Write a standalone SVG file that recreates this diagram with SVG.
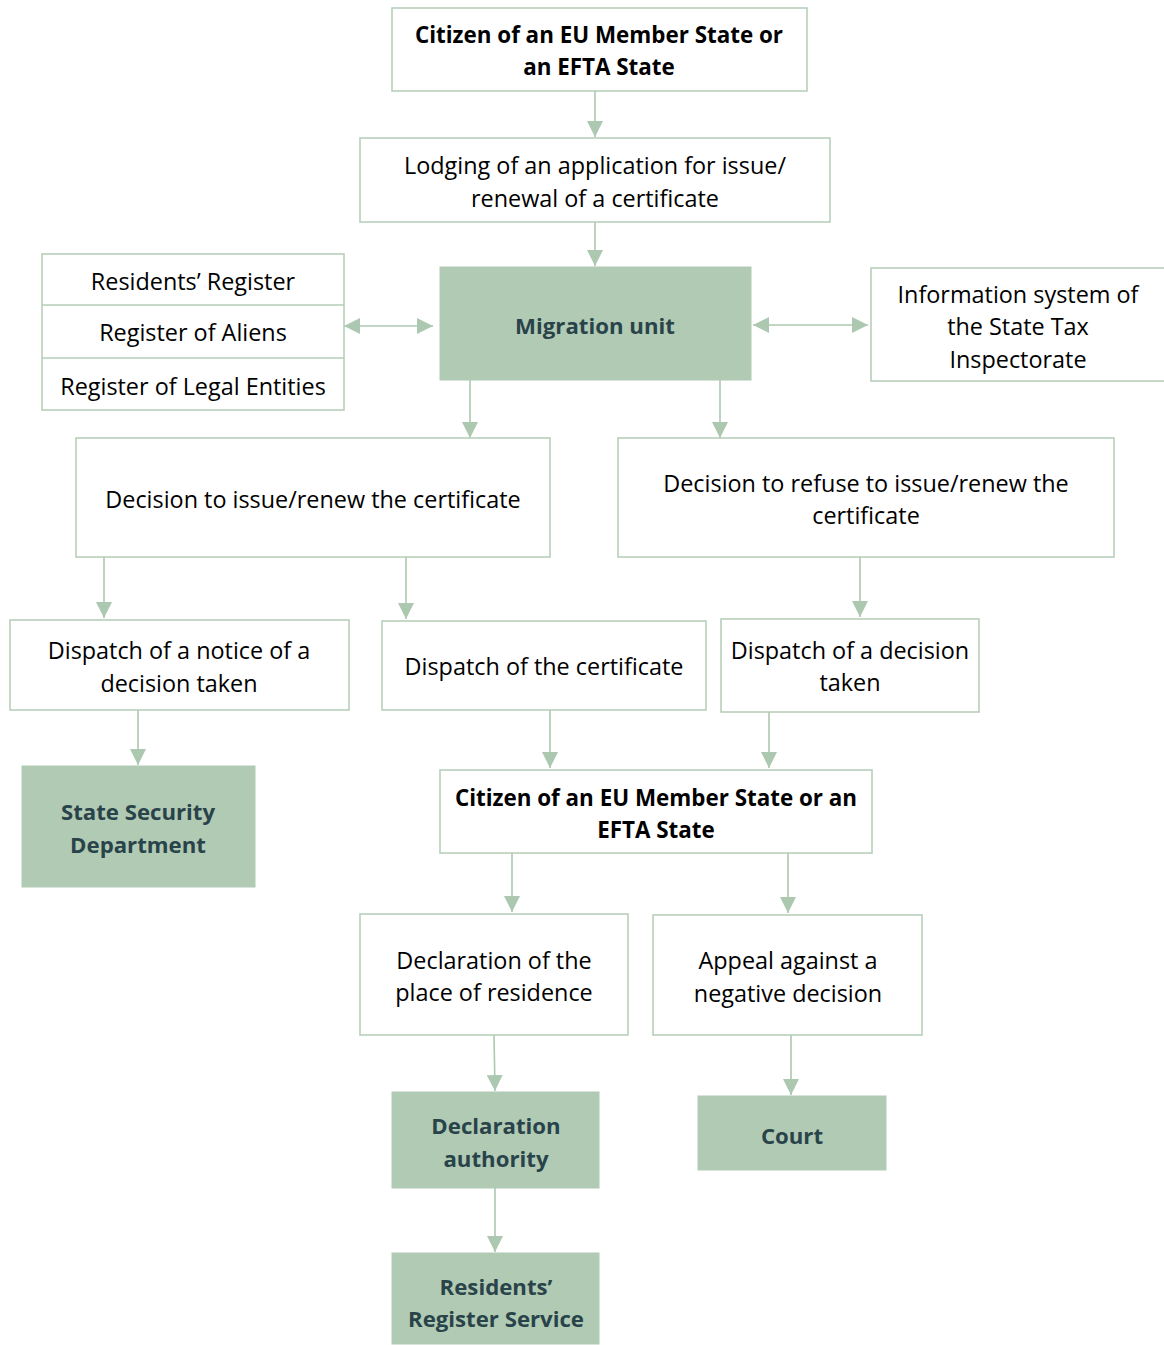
<svg xmlns="http://www.w3.org/2000/svg" width="1164" height="1345" viewBox="0 0 1164 1345">
<style>
.box{fill:#ffffff;stroke:#b4cdb7;stroke-width:1.5}
.gbox{fill:#b1cab3;stroke:#b1cab3;stroke-width:1}
.t{font-family:"Open Sans","Liberation Sans",sans-serif;font-size:23.4px;fill:#000;text-anchor:middle;dominant-baseline:central}
.b{font-weight:bold;font-size:22.4px}
.g{font-family:"Open Sans","Liberation Sans",sans-serif;font-size:22.2px;font-weight:bold;fill:#29434a;text-anchor:middle;dominant-baseline:central}
.c{stroke:#adc8b0;stroke-width:1.6;fill:none}
</style>
<defs>
<marker id="ah" markerUnits="userSpaceOnUse" markerWidth="16" markerHeight="16" viewBox="0 0 16 16" refX="16" refY="8" orient="auto-start-reverse">
<path d="M0,0 L16,8 L0,16 Z" fill="#adc8b0"/>
</marker>
</defs>
<g id="connectors">
<line class="c" x1="595" y1="91" x2="595" y2="137" marker-end="url(#ah)"/>
<line class="c" x1="595" y1="222" x2="595" y2="266" marker-end="url(#ah)"/>
<line class="c" x1="344" y1="326" x2="433" y2="326" marker-start="url(#ah)" marker-end="url(#ah)"/>
<line class="c" x1="753" y1="325" x2="868" y2="325" marker-start="url(#ah)" marker-end="url(#ah)"/>
<line class="c" x1="470" y1="380" x2="470" y2="438" marker-end="url(#ah)"/>
<line class="c" x1="720" y1="380" x2="720" y2="438" marker-end="url(#ah)"/>
<line class="c" x1="104" y1="557" x2="104" y2="618" marker-end="url(#ah)"/>
<line class="c" x1="406" y1="557" x2="406" y2="619" marker-end="url(#ah)"/>
<line class="c" x1="860" y1="557" x2="860" y2="617" marker-end="url(#ah)"/>
<line class="c" x1="138" y1="710" x2="138" y2="765" marker-end="url(#ah)"/>
<line class="c" x1="550" y1="710" x2="550" y2="768" marker-end="url(#ah)"/>
<line class="c" x1="769" y1="712" x2="769" y2="768" marker-end="url(#ah)"/>
<line class="c" x1="512" y1="853" x2="512" y2="912" marker-end="url(#ah)"/>
<line class="c" x1="788" y1="853" x2="788" y2="913" marker-end="url(#ah)"/>
<line class="c" x1="494" y1="1035" x2="495" y2="1091" marker-end="url(#ah)"/>
<line class="c" x1="791" y1="1035" x2="791" y2="1095" marker-end="url(#ah)"/>
<line class="c" x1="495" y1="1188" x2="495" y2="1252" marker-end="url(#ah)"/>
</g>
<g id="n-citizen1">
<rect class="box" x="392" y="8" width="415" height="83"/>
<text class="t b" x="599" y="34">Citizen of an EU Member State or</text>
<text class="t b" x="599" y="66">an EFTA State</text>
</g>
<g id="n-lodging">
<rect class="box" x="360" y="138" width="470" height="84"/>
<text class="t" x="595" y="165">Lodging of an application for issue/</text>
<text class="t" x="595" y="198">renewal of a certificate</text>
</g>
<g id="n-migration">
<rect class="gbox" x="440" y="267" width="311" height="113"/>
<text class="g" x="595" y="325">Migration unit</text>
</g>
<g id="n-registers">
<rect class="box" x="42" y="254" width="302" height="156"/>
<line class="box" x1="42" y1="305" x2="344" y2="305"/>
<line class="box" x1="42" y1="358" x2="344" y2="358"/>
<text class="t" x="193" y="281">Residents’ Register</text>
<text class="t" x="193" y="332">Register of Aliens</text>
<text class="t" x="193" y="386">Register of Legal Entities</text>
</g>
<g id="n-tax">
<path class="box" d="M1164,268 L871,268 L871,381 L1164,381"/>
<text class="t" x="1018" y="294">Information system of</text>
<text class="t" x="1018" y="326">the State Tax</text>
<text class="t" x="1018" y="359">Inspectorate</text>
</g>
<g id="n-issue">
<rect class="box" x="76" y="438" width="474" height="119"/>
<text class="t" x="313" y="499">Decision to issue/renew the certificate</text>
</g>
<g id="n-refuse">
<rect class="box" x="618" y="438" width="496" height="119"/>
<text class="t" x="866" y="483">Decision to refuse to issue/renew the</text>
<text class="t" x="866" y="515">certificate</text>
</g>
<g id="n-notice">
<rect class="box" x="10" y="620" width="339" height="90"/>
<text class="t" x="179" y="650">Dispatch of a notice of a</text>
<text class="t" x="179" y="683">decision taken</text>
</g>
<g id="n-certificate">
<rect class="box" x="382" y="621" width="324" height="89"/>
<text class="t" x="544" y="666">Dispatch of the certificate</text>
</g>
<g id="n-decision">
<rect class="box" x="721" y="619" width="258" height="93"/>
<text class="t" x="850" y="650">Dispatch of a decision</text>
<text class="t" x="850" y="682">taken</text>
</g>
<g id="n-ssd">
<rect class="gbox" x="22" y="766" width="233" height="121"/>
<text class="g" x="138" y="811">State Security</text>
<text class="g" x="138" y="844">Department</text>
</g>
<g id="n-citizen2">
<rect class="box" x="440" y="770" width="432" height="83"/>
<text class="t b" x="656" y="797">Citizen of an EU Member State or an</text>
<text class="t b" x="656" y="829">EFTA State</text>
</g>
<g id="n-declaration">
<rect class="box" x="360" y="914" width="268" height="121"/>
<text class="t" x="494" y="960">Declaration of the</text>
<text class="t" x="494" y="992">place of residence</text>
</g>
<g id="n-appeal">
<rect class="box" x="653" y="915" width="269" height="120"/>
<text class="t" x="788" y="960">Appeal against a</text>
<text class="t" x="788" y="993">negative decision</text>
</g>
<g id="n-authority">
<rect class="gbox" x="392" y="1092" width="207" height="96"/>
<text class="g" x="496" y="1125">Declaration</text>
<text class="g" x="496" y="1158">authority</text>
</g>
<g id="n-court">
<rect class="gbox" x="698" y="1096" width="188" height="74"/>
<text class="g" x="792" y="1135">Court</text>
</g>
<g id="n-rrs">
<rect class="gbox" x="392" y="1253" width="207" height="91"/>
<text class="g" x="496" y="1286">Residents’</text>
<text class="g" x="496" y="1318">Register Service</text>
</g>
</svg>
